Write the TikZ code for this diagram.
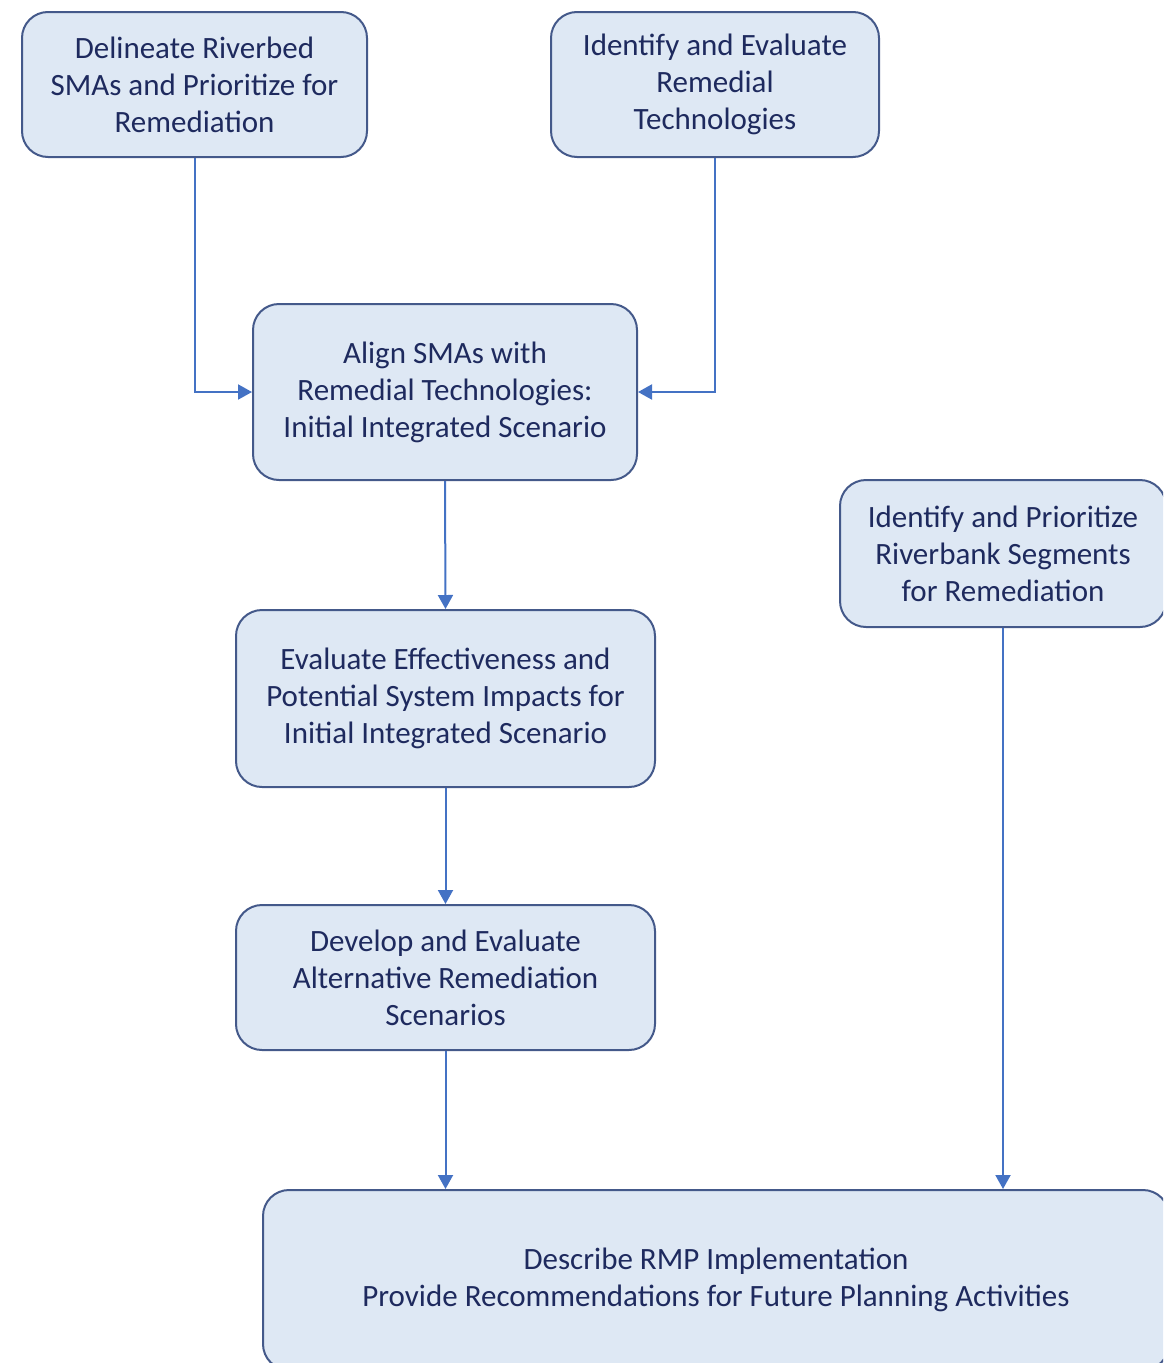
\documentclass[tikz,border=0pt]{standalone}
\usepackage{fontspec}
\setmainfont{Carlito}
\usetikzlibrary{arrows.meta}
\definecolor{boxfill}{HTML}{DEE8F4}
\definecolor{boxdraw}{HTML}{44598A}
\definecolor{txt}{HTML}{1E2A5E}
\definecolor{arr}{HTML}{4472C4}
\tikzset{
  stepbox/.style={draw=boxdraw, fill=boxfill, line width=2pt, rounded corners=26pt,
    align=center, text=txt, font=\fontsize{31}{37}\selectfont, inner sep=0pt},
  conn/.style={draw=arr, line width=2pt, -{Triangle[length=14pt,width=15pt]}}
}
\begin{document}
\begin{tikzpicture}[x=1pt,y=-1pt]
\useasboundingbox (0,0) rectangle (1163,1363);
\clip (0,0) rectangle (1163,1363);
\node[stepbox, minimum width=345pt, minimum height=145pt] (a) at (194.5,84.5)
  {Delineate Riverbed\\SMAs and Prioritize for\\Remediation};
\node[stepbox, minimum width=328pt, minimum height=145pt] (b) at (715,84.5)
  {Identify and Evaluate\\Remedial\\Technologies};
\node[stepbox, minimum width=384pt, minimum height=176pt] (c) at (445,392)
  {Align SMAs with\\Remedial Technologies:\\Initial Integrated Scenario};
\node[stepbox, minimum width=326pt, minimum height=147pt] (d) at (1003,553.5)
  {Identify and Prioritize\\Riverbank Segments\\for Remediation};
\node[stepbox, minimum width=419pt, minimum height=177pt] (e) at (445.5,698.5)
  {Evaluate Effectiveness and\\Potential System Impacts for\\Initial Integrated Scenario};
\node[stepbox, minimum width=419pt, minimum height=145pt] (f) at (445.5,977.5)
  {Develop and Evaluate\\Alternative Remediation\\Scenarios};
\node[stepbox, minimum width=906pt, minimum height=180pt] (g) at (716,1280)
  {Describe RMP Implementation\\Provide Recommendations for Future Planning Activities};
\draw[conn] (a.south) |- (c.west);
\draw[conn] (b.south) |- (c.east);
\draw[conn] (c.south) -- (e.north);
\draw[conn] (e.south) -- (f.north);
\draw[conn] (f.south) -- (f.south |- g.north);
\draw[conn] (d.south) -- (d.south |- g.north);
\end{tikzpicture}
\end{document}
